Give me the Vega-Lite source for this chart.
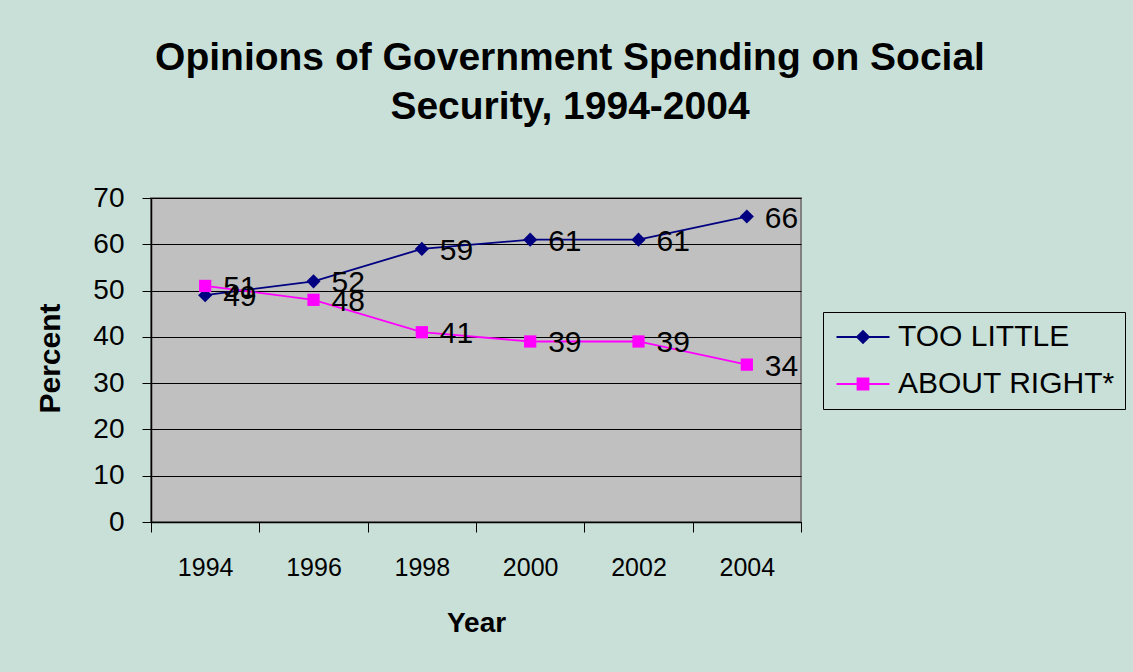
{
  "$schema": "https://vega.github.io/schema/vega-lite/v6.json",
  "autosize": "none",
  "width": 650,
  "height": 324,
  "padding": {"left": 151, "top": 198, "right": 332, "bottom": 150},
  "background": "#C9E0D9",
  "title": {
    "text": ["Opinions of Government Spending on Social", "Security, 1994-2004"],
    "font": "Liberation Sans",
    "fontSize": 39,
    "fontWeight": "bold",
    "color": "black",
    "anchor": "middle",
    "frame": "group",
    "dx": 94,
    "lineHeight": 49,
    "offset": 57
  },
  "data": {
    "values": [
      {"year": "1994", "series": "TOO LITTLE", "value": 49},
      {"year": "1996", "series": "TOO LITTLE", "value": 52},
      {"year": "1998", "series": "TOO LITTLE", "value": 59},
      {"year": "2000", "series": "TOO LITTLE", "value": 61},
      {"year": "2002", "series": "TOO LITTLE", "value": 61},
      {"year": "2004", "series": "TOO LITTLE", "value": 66},
      {"year": "1994", "series": "ABOUT RIGHT*", "value": 51},
      {"year": "1996", "series": "ABOUT RIGHT*", "value": 48},
      {"year": "1998", "series": "ABOUT RIGHT*", "value": 41},
      {"year": "2000", "series": "ABOUT RIGHT*", "value": 39},
      {"year": "2002", "series": "ABOUT RIGHT*", "value": 39},
      {"year": "2004", "series": "ABOUT RIGHT*", "value": 34}
    ]
  },
  "encoding": {
    "x": {
      "field": "year",
      "type": "ordinal",
      "scale": {"type": "band", "paddingInner": 0, "paddingOuter": 0},
      "axis": {
        "title": "Year",
        "labelAngle": 0,
        "tickBand": "extent",
        "tickSize": 10,
        "labelPadding": 23,
        "labelFont": "Liberation Sans",
        "labelFontSize": 25,
        "titleFont": "Liberation Sans",
        "titleFontSize": 28,
        "titleFontWeight": "bold",
        "titleY": 101,
        "titleBaseline": "middle",
        "grid": false
      }
    },
    "y": {
      "field": "value",
      "type": "quantitative",
      "scale": {"domain": [0, 70], "nice": false},
      "axis": {
        "title": "Percent",
        "values": [0, 10, 20, 30, 40, 50, 60, 70],
        "tickSize": 9,
        "labelPadding": 18,
        "labelFont": "Liberation Sans",
        "labelFontSize": 28,
        "titleFont": "Liberation Sans",
        "titleFontSize": 30,
        "titleFontWeight": "bold",
        "titleAngle": -90,
        "titleX": -101,
        "titleY": 160,
        "titleBaseline": "middle",
        "grid": true
      }
    },
    "color": {
      "field": "series",
      "type": "nominal",
      "scale": {"domain": ["TOO LITTLE", "ABOUT RIGHT*"], "range": ["#000080", "#FF00FF"]},
      "legend": {
        "title": null,
        "orient": "none",
        "legendX": 672,
        "legendY": 114,
        "padding": 10,
        "strokeColor": "black",
        "fillColor": "#C9E0D9",
        "labelFont": "Liberation Sans",
        "labelFontSize": 30,
        "labelColor": "black",
        "labelLimit": 0,
        "symbolSize": 400,
        "symbolOffset": 15,
        "labelOffset": 20,
        "rowPadding": 17,
        "encode": {
          "symbols": {
            "update": {
              "shape": {"signal": "datum.value === 'TOO LITTLE' ? 'M-2.65,0H2.65M-0.6,0L0,-0.6L0.6,0L0,0.6Z' : 'M-2.65,0H2.65M-0.55,-0.55H0.55V0.55H-0.55Z'"},
              "stroke": {"signal": "datum.value === 'TOO LITTLE' ? '#000080' : '#FF00FF'"},
              "fill": {"signal": "datum.value === 'TOO LITTLE' ? '#000080' : '#FF00FF'"},
              "strokeWidth": {"value": 1.8},
              "opacity": {"value": 1}
            }
          }
        }
      }
    }
  },
  "layer": [
    {"mark": {"type": "line", "strokeWidth": 1.8}},
    {
      "transform": [{"filter": "datum.series === 'TOO LITTLE'"}],
      "mark": {"type": "point", "filled": true, "opacity": 1, "size": 200, "shape": "diamond"}
    },
    {
      "transform": [{"filter": "datum.series === 'ABOUT RIGHT*'"}],
      "mark": {"type": "point", "filled": true, "opacity": 1, "size": 150, "shape": "square"}
    },
    {
      "mark": {"type": "text", "align": "left", "baseline": "middle", "dx": 18, "dy": 2, "font": "Liberation Sans", "fontSize": 30, "color": "black"},
      "encoding": {
        "text": {"field": "value", "type": "quantitative"},
        "color": {"value": "black"}
      }
    }
  ],
  "config": {
    "view": {"stroke": "#808080", "strokeWidth": 2, "fill": "#C0C0C0"},
    "axis": {
      "domainColor": "black",
      "domainWidth": 1.5,
      "tickColor": "black",
      "tickWidth": 1,
      "labelColor": "black",
      "titleColor": "black",
      "gridColor": "black",
      "gridWidth": 1,
      "gridOpacity": 1
    }
  }
}
